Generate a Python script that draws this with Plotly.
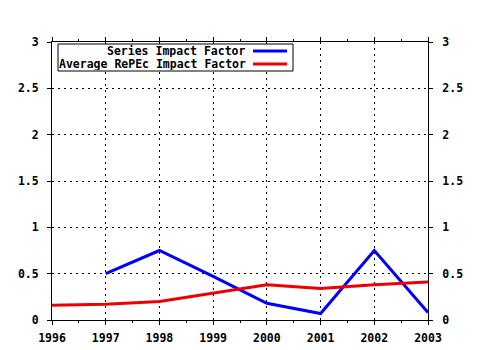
import plotly.graph_objects as go

years = [1996, 1997, 1998, 1999, 2000, 2001, 2002, 2003]
series_years = [1997, 1998, 1999, 2000, 2001, 2002, 2003]
series_if = [0.50, 0.75, 0.47, 0.18, 0.07, 0.75, 0.08]
avg_if = [0.16, 0.17, 0.20, 0.29, 0.38, 0.34, 0.38, 0.41]
y_ticks = [0, 0.5, 1, 1.5, 2, 2.5, 3]
y_tick_labels = ["0", "0.5", "1", "1.5", "2", "2.5", "3"]
legend_labels = ["Series Impact Factor", "Average RePEc Impact Factor"]
colors = ["#0000ff", "#ee0000"]

W, H = 480, 350
L, R, T, B = 52, 52, 42, 30

font = dict(family="DejaVu Sans Mono", size=11.5, color="black", weight="bold")

fig = go.Figure()
fig.add_trace(go.Scatter(x=series_years, y=series_if, mode="lines",
                         line=dict(color=colors[0], width=3), name=legend_labels[0]))
fig.add_trace(go.Scatter(x=years, y=avg_if, mode="lines",
                         line=dict(color=colors[1], width=3), name=legend_labels[1]))
# invisible trace to activate right axis
fig.add_trace(go.Scatter(x=[years[0]], y=[0], yaxis="y2", mode="markers",
                         marker=dict(opacity=0), showlegend=False, hoverinfo="skip"))

axis_common = dict(showline=True, linecolor="black", linewidth=1,
                   ticks="outside", ticklen=4, tickcolor="black",
                   zeroline=False, tickfont=font, automargin=False)

grid = dict(showgrid=True, gridcolor="black", griddash="2px,4px", gridwidth=1)

fig.update_layout(
    width=W, height=H, autosize=False,
    margin=dict(l=L, r=R, t=T, b=B, pad=0),
    paper_bgcolor="white", plot_bgcolor="white",
    showlegend=False,
    font=font,
    xaxis=dict(axis_common, **grid, range=[1996, 2003], tickvals=years,
               ticktext=[str(y) for y in years], mirror="ticks",
               ticklabelstandoff=3,
               minor=dict(ticks="outside", ticklen=2, tickcolor="black", nticks=4, showgrid=False)),
    yaxis=dict(axis_common, **grid, range=[0, 3], tickvals=y_ticks, ticktext=y_tick_labels,
               ticklabelstandoff=6),
    yaxis2=dict(axis_common, range=[0, 3], tickvals=y_ticks, ticktext=y_tick_labels,
                overlaying="y", side="right", showgrid=False, ticklabelstandoff=7),
)

# custom gnuplot-style legend (text right-aligned, line sample on the right)
def px(x):
    return (x - L) / (W - L - R)

def py(y):
    return (H - B - y) / (H - T - B)

fig.add_shape(type="rect", xref="paper", yref="paper",
              x0=px(58), x1=px(293), y0=py(71), y1=py(44),
              line=dict(color="black", width=1), fillcolor="white", layer="above")
for i, (lab, col) in enumerate(zip(legend_labels, colors)):
    yy = 51 + 13 * i
    fig.add_annotation(xref="paper", yref="paper", x=px(247), y=py(yy),
                       text=lab, showarrow=False, xanchor="right", yanchor="middle",
                       font=font, height=12, borderpad=0)
    fig.add_shape(type="line", xref="paper", yref="paper",
                  x0=px(253), x1=px(287), y0=py(yy), y1=py(yy),
                  line=dict(color=col, width=3), layer="above")

fig.write_html("out.html")
